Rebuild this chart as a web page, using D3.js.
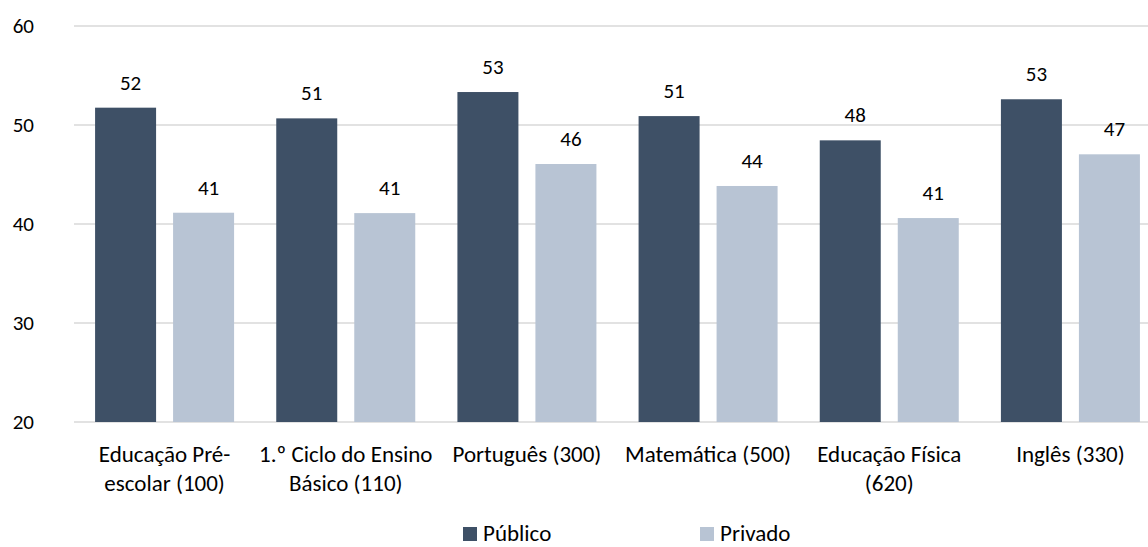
<!DOCTYPE html>
<html>
<head>
<meta charset="utf-8">
<script src="https://cdn.jsdelivr.net/npm/d3@7"></script>
<style>
  html, body { margin: 0; padding: 0; background: #fff; }
  svg text { font-family: Calibri, Carlito, Lato, sans-serif; fill: #000; }
</style>
</head>
<body>
<svg id="chart" width="1148" height="547"></svg>
<script>
// data
const categories = [
  'Educação Pré-escolar (100)',
  '1.º Ciclo do Ensino Básico (110)',
  'Português (300)',
  'Matemática (500)',
  'Educação Física (620)',
  'Inglês (330)',
];
const tickLines = [
  ['Educação Pré-', 'escolar (100)'],
  ['1.º Ciclo do Ensino', 'Básico (110)'],
  ['Português (300)'],
  ['Matemática (500)'],
  ['Educação Física', '(620)'],
  ['Inglês (330)'],
];
const series = ['Público', 'Privado'];
const publico = [51.75, 50.67, 53.33, 50.9, 48.45, 52.6];
const privado = [41.14, 41.1, 46.06, 43.84, 40.6, 47.04];
const yTicks = [20, 30, 40, 50, 60];

const colors = {
  'Público': '#3e5066',
  'Privado': '#b8c4d4',
};

// digits and words need different sizes to match the reference widths
const numSize = 21;
const textSize = 23;

const svg = d3.select('#chart');

const y = d3.scaleLinear()
  .domain([20, 60])
  .range([422, 26]);

// outer band runs a little past the right edge, as in the reference
const x0 = d3.scaleBand()
  .domain(categories)
  .range([74, 1161]);

const groupW = 139;
const x1 = d3.scaleBand()
  .domain(series)
  .range([0, groupW])
  .paddingInner(0.218);

const rows = categories.map((c, i) => ({
  category: c,
  lines: tickLines[i],
  values: [
    { key: 'Público', value: publico[i] },
    { key: 'Privado', value: privado[i] },
  ],
}));

// gridlines
svg.append('g')
  .attr('class', 'grid')
  .selectAll('line')
  .data(yTicks)
  .join('line')
    .attr('x1', 74)
    .attr('x2', 1148)
    .attr('y1', (d) => y(d))
    .attr('y2', (d) => y(d))
    .attr('stroke', '#d9d9d9')
    .attr('stroke-width', 1.5);

// y axis labels
svg.append('g')
  .attr('class', 'yLabels')
  .selectAll('text')
  .data(yTicks)
  .join('text')
    .attr('x', 34)
    .attr('y', (d) => y(d))
    .attr('dy', '0.32em')
    .attr('text-anchor', 'end')
    .style('font-size', `${numSize}px`)
    .text((d) => d);

// bars
const groups = svg.append('g')
  .attr('class', 'bars')
  .selectAll('g')
  .data(rows)
  .join('g')
    .attr('transform', (d) => `translate(${x0(d.category) + (x0.bandwidth() - groupW) / 2},0)`);

groups.selectAll('rect')
  .data((d) => d.values)
  .join('rect')
    .attr('x', (d) => x1(d.key))
    .attr('y', (d) => y(d.value))
    .attr('width', x1.bandwidth())
    .attr('height', (d) => y(20) - y(d.value))
    .attr('fill', (d) => colors[d.key]);

// value labels (sit a few px right of the bar centre in the reference)
groups.selectAll('text')
  .data((d) => d.values)
  .join('text')
    .attr('x', (d) => x1(d.key) + x1.bandwidth() / 2 + 5)
    .attr('y', (d) => y(d.value) - 18)
    .attr('text-anchor', 'middle')
    .style('font-size', `${numSize}px`)
    .text((d) => d3.format('.0f')(d.value));

// category labels
svg.append('g')
  .attr('class', 'xLabels')
  .selectAll('text')
  .data(rows)
  .join('text')
    .attr('x', (d) => x0(d.category) + x0.bandwidth() / 2)
    .attr('y', 462)
    .attr('text-anchor', 'middle')
    .style('font-size', `${textSize}px`)
    .call((t) => t.selectAll('tspan')
      .data((d) => d.lines)
      .join('tspan')
        .attr('x', function () { return this.parentNode.getAttribute('x'); })
        .attr('dy', (d, i) => (i === 0 ? 0 : 29))
        .text((d) => d));

// legend
const legendX = [463, 700];
const legend = svg.append('g')
  .attr('class', 'legend')
  .selectAll('g')
  .data(series)
  .join('g')
    .attr('transform', (d, i) => `translate(${legendX[i]},527)`);

legend.append('rect')
  .attr('width', 14)
  .attr('height', 14)
  .attr('fill', (d) => colors[d]);

legend.append('text')
  .attr('x', 20)
  .attr('y', 14)
  .style('font-size', `${textSize}px`)
  .text((d) => d);
</script>
</body>
</html>
